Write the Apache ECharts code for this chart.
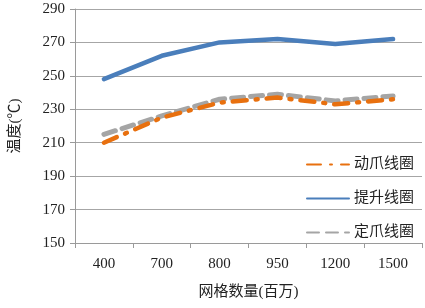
<!DOCTYPE html>
<html>
<head>
<meta charset="utf-8">
<script src="https://cdn.jsdelivr.net/npm/echarts@6/dist/echarts.min.js"></script>
<style>
  html, body { margin: 0; padding: 0; background: #fff; }
  #chart { width: 425px; height: 308px; }
</style>
</head>
<body>
<div id="chart"></div>
<script>
const categories = ["400", "700", "800", "950", "1200", "1500"];
const dongzhua = [210, 225, 234, 237, 233, 236];
const tisheng = [248, 262, 270, 272, 269, 272];
const dingzhua = [215, 226, 236, 239, 235, 238];

const font = "Liberation Serif, 'Noto Sans CJK SC', serif";
const axisGray = "#9a9a9a";

const chart = echarts.init(document.getElementById("chart"));

const options = {
  animation: false,
  textStyle: { fontFamily: font },
  grid: { left: 69, right: 3, top: 9, bottom: 65 },
  legend: {
    orient: "vertical",
    right: 6,
    top: 152,
    itemWidth: 42,
    itemHeight: 12,
    itemGap: 19,
    itemStyle: { opacity: 0 },
    textStyle: { fontFamily: font, fontSize: 15, color: "#222" },
    data: ["动爪线圈", "提升线圈", "定爪线圈"],
  },
  xAxis: {
    type: "category",
    data: categories,
    boundaryGap: true,
    name: "网格数量(百万)",
    nameLocation: "middle",
    nameGap: 42,
    nameTextStyle: { fontFamily: font, fontSize: 15, color: "#222" },
    axisLine: { lineStyle: { color: axisGray } },
    axisTick: { show: true, length: 5, inside: false, alignWithLabel: false },
    axisLabel: { fontFamily: font, fontSize: 15, color: "#222", margin: 14 },
  },
  yAxis: {
    type: "value",
    min: 150,
    max: 290,
    interval: 20,
    name: "温度(℃)",
    nameLocation: "middle",
    nameGap: 52,
    nameRotate: 90,
    nameTextStyle: { fontFamily: font, fontSize: 15, color: "#222" },
    axisLine: { show: true, lineStyle: { color: axisGray } },
    axisTick: { show: true, length: 5, lineStyle: { color: axisGray } },
    axisLabel: { fontFamily: font, fontSize: 15, color: "#222", margin: 10 },
    splitLine: { lineStyle: { color: "#a6a6a6", width: 1 } },
  },
  series: [
    {
      name: "动爪线圈",
      type: "line",
      data: dongzhua,
      symbol: "none",
      color: "#e8700f",
      lineStyle: { width: 4.5, color: "#e8700f", type: [14, 9, 2, 9], cap: "round" },
      z: 3,
    },
    {
      name: "提升线圈",
      type: "line",
      data: tisheng,
      symbol: "none",
      color: "#4a7ebb",
      lineStyle: { width: 4.5, color: "#4a7ebb", cap: "round" },
    },
    {
      name: "定爪线圈",
      type: "line",
      data: dingzhua,
      symbol: "none",
      color: "#a5a5a5",
      lineStyle: { width: 5, color: "#a5a5a5", type: [12, 7], cap: "round" },
      z: 2,
    },
  ],
};

chart.setOption(options);
</script>
</body>
</html>
